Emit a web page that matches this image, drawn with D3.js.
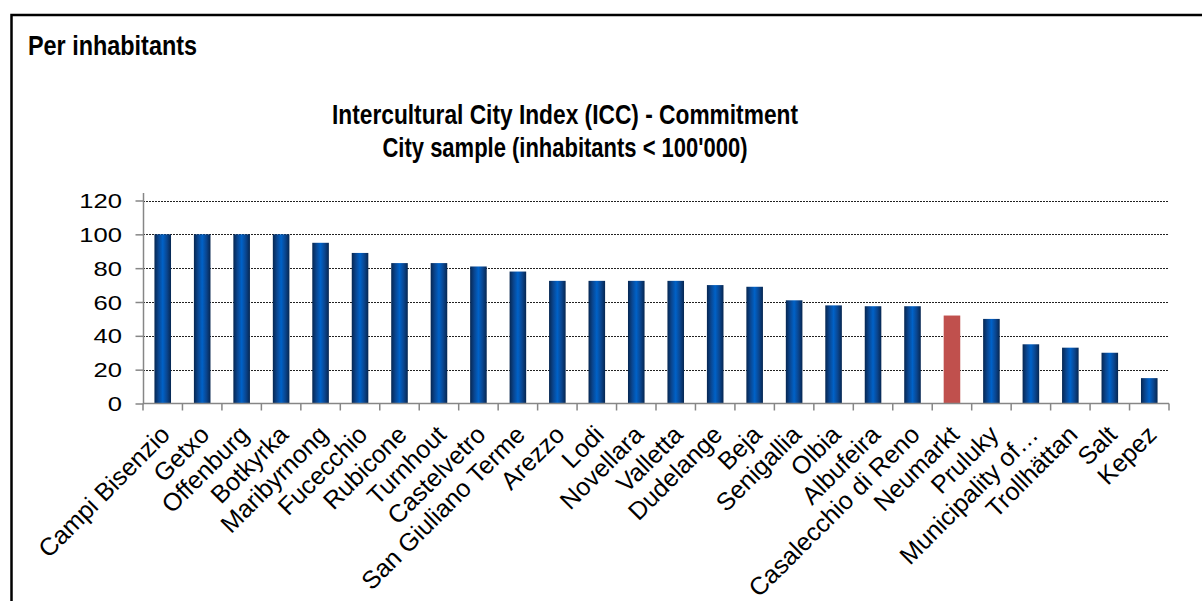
<!DOCTYPE html>
<html>
<head>
<meta charset="utf-8">
<script src="https://cdn.jsdelivr.net/npm/d3@7"></script>
<style>
  html, body { margin: 0; padding: 0; background: #fff; }
  svg { display: block; }
</style>
</head>
<body>
<svg id="chart" width="1202" height="601"></svg>
<script>
// Intercultural City Index (ICC) - Commitment, cities under 100'000 inhabitants
const cities = [
  "Campi Bisenzio", "Getxo", "Offenburg", "Botkyrka", "Maribyrnong", "Fucecchio",
  "Rubicone", "Turnhout", "Castelvetro", "San Giuliano Terme", "Arezzo", "Lodi",
  "Novellara", "Valletta", "Dudelange", "Beja", "Senigallia", "Olbia", "Albufeira",
  "Casalecchio di Reno", "Neumarkt", "Pruluky", "Municipality of…", "Trollhättan",
  "Salt", "Kepez"
];
const commitment = [
  100, 100, 100, 100, 95, 89,
  83, 83, 81, 78, 72.5, 72.5,
  72.5, 72.5, 70, 69, 61, 58, 57.5,
  57.5, 52, 50, 35, 33,
  30, 15
];
const highlighted = ["Neumarkt"];
const yTicks = [0, 20, 40, 60, 80, 100, 120];
const headerText = "Per inhabitants";
const titleLines = [
  "Intercultural City Index (ICC) - Commitment",
  "City sample (inhabitants < 100'000)"
];

const svg = d3.select("#chart");
const W = 1202, H = 601;
const plot = { left: 143, right: 1169, top: 200.5, bottom: 403.5 };

svg.append("rect").attr("width", W).attr("height", H).attr("fill", "#fff");

// Outer frame (runs off the right and bottom edges)
svg.append("path")
  .attr("d", `M11.5,${H} V15 H${W}`)
  .attr("fill", "none")
  .attr("stroke", "#000")
  .attr("stroke-width", 2.5);

const narrow = "'Liberation Sans Narrow', 'Arial Narrow', 'Liberation Sans', Arial, sans-serif";
const sans = "'Liberation Sans', Arial, Helvetica, sans-serif";

svg.append("text")
  .attr("x", 28).attr("y", 55)
  .attr("font-family", narrow).attr("font-weight", "bold")
  .attr("font-size", 28)
  .attr("textLength", 169).attr("lengthAdjust", "spacingAndGlyphs")
  .attr("fill", "#000")
  .text(headerText);

const titleWidths = [466, 365];
const titleBase = [124, 157];
titleLines.forEach((t, i) => {
  svg.append("text")
    .attr("x", 565).attr("y", titleBase[i])
    .attr("text-anchor", "middle")
    .attr("font-family", narrow).attr("font-weight", "bold")
    .attr("font-size", 27)
    .attr("textLength", titleWidths[i]).attr("lengthAdjust", "spacingAndGlyphs")
    .attr("fill", "#000")
    .text(t);
});

// Scales
const x = d3.scaleBand()
  .domain(cities)
  .range([plot.left, plot.right])
  .paddingInner(0.58)
  .paddingOuter(0.29);

const y = d3.scaleLinear()
  .domain([0, 120])
  .range([plot.bottom, plot.top]);

// Bar shading: dark edges, bright centre
const defs = svg.append("defs");
const grad = defs.append("linearGradient")
  .attr("id", "barBlue").attr("x1", "0%").attr("x2", "100%").attr("y1", "0%").attr("y2", "0%");
[["0%", "#062650"], ["25%", "#0a4690"], ["50%", "#0062c8"], ["75%", "#0a4690"], ["100%", "#062650"]]
  .forEach(([o, c]) => grad.append("stop").attr("offset", o).attr("stop-color", c));

// Gridlines
svg.append("g")
  .selectAll("line")
  .data(yTicks.filter(d => d > 0))
  .join("line")
  .attr("x1", plot.left).attr("x2", plot.right)
  .attr("y1", d => Math.round(y(d)) + 0.5).attr("y2", d => Math.round(y(d)) + 0.5)
  .attr("stroke", "#222")
  .attr("stroke-width", 1)
  .attr("stroke-dasharray", "2,1");

// Bars
svg.append("g")
  .selectAll("rect")
  .data(cities.map((c, i) => ({ city: c, value: commitment[i] })))
  .join("rect")
  .attr("x", d => x(d.city))
  .attr("width", x.bandwidth())
  .attr("y", d => y(d.value))
  .attr("height", d => y(0) - y(d.value))
  .attr("fill", d => highlighted.includes(d.city) ? "#c0504d" : "url(#barBlue)");

// Y axis
const axisColor = "#868686";
const yAxis = svg.append("g")
  .attr("transform", `translate(${plot.left + 0.5},0)`)
  .call(d3.axisLeft(y).tickValues(yTicks).tickSize(8).tickFormat(""));
yAxis.select(".domain").attr("d", `M0,193V${plot.bottom}`).attr("stroke", axisColor).attr("stroke-width", 1.5);
yAxis.selectAll(".tick line").attr("stroke", axisColor).attr("stroke-width", 1.5);

// Y tick labels, set in wide digits
svg.append("g")
  .selectAll("text")
  .data(yTicks)
  .join("text")
  .attr("transform", d => `translate(122,${y(d)}) scale(1.22,1)`)
  .attr("text-anchor", "end")
  .attr("dy", "0.36em")
  .attr("font-family", sans).attr("font-size", 21).attr("fill", "#000")
  .text(d => d);

// X axis: ticks at category boundaries
const xAxis = svg.append("g").attr("transform", `translate(0,${plot.bottom})`);
xAxis.append("line")
  .attr("x1", plot.left).attr("x2", plot.right)
  .attr("stroke", axisColor).attr("stroke-width", 1.5);
const step = x.step();
xAxis.selectAll("line.tick")
  .data(d3.range(cities.length + 1))
  .join("line")
  .attr("class", "tick")
  .attr("x1", i => plot.left + i * step).attr("x2", i => plot.left + i * step)
  .attr("y1", 0).attr("y2", 7)
  .attr("stroke", axisColor).attr("stroke-width", 1.5);

xAxis.selectAll("text")
  .data(cities)
  .join("text")
  .attr("transform", d => `translate(${x(d) + x.bandwidth() / 2 - 1},23) rotate(-45)`)
  .attr("text-anchor", "end")
  .attr("dy", "0.55em")
  .attr("font-family", sans)
  .attr("font-size", 25)
  .attr("fill", "#000")
  .text(d => d);
</script>
</body>
</html>
